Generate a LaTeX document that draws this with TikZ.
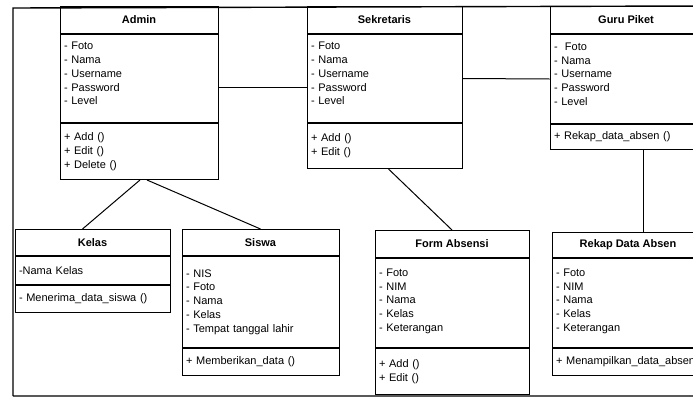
\documentclass[tikz,border=0pt]{standalone}
\usepackage{fontspec}
\setmainfont{Liberation Sans}
\usetikzlibrary{positioning}
\begin{document}
\begin{tikzpicture}[x=1pt,y=-1pt,line width=1pt,node distance=0pt,
  font=\fontsize{11}{13.75}\selectfont,
  ttl/.style={draw,anchor=north,inner sep=0pt,align=center,font=\fontsize{11}{13.75}\selectfont\bfseries},
  sect/.style={draw,inner xsep=4pt,inner ysep=0pt,align=left}]
\path[use as bounding box,clip](0,0)rectangle(693,399);
\draw[line width=1.4pt](13,396)--(13,8)--(693,6)(13,396)--(693,396);
\node[ttl,minimum width=158,minimum height=27](adminT)at(139,6){Admin};
\node[sect,below=of adminT,text width=150pt,minimum height=88](adminA){- Foto\\- Nama\\- Username\\- Password\\- Level\\[-4pt]\mbox{}};
\node[sect,below=of adminA,text width=150pt,minimum height=56](adminM){+ Add ()\\+ Edit ()\\+ Delete ()};
\node[ttl,minimum width=155,minimum height=27](sekT)at(384.5,6){Sekretaris};
\node[sect,below=of sekT,text width=147pt,minimum height=88](sekA){- Foto\\- Nama\\- Username\\- Password\\- Level\\[-4pt]\mbox{}};
\node[sect,below=of sekA,text width=147pt,minimum height=45](sekM){+ Add ()\\+ Edit ()};
\node[ttl,minimum width=152,minimum height=27](guruT)at(626,6){Guru Piket};
\node[sect,below=of guruT,text width=144pt,minimum height=89](guruA){-\ \ Foto\\- Nama\\- Username\\- Password\\- Level\\[-4pt]\mbox{}};
\node[sect,below=of guruA,text width=144pt,minimum height=25](guruM){+ Rekap\_data\_absen ()};
\node[ttl,minimum width=155,minimum height=26](kelasT)at(92.5,229){Kelas};
\node[sect,below=of kelasT,text width=147pt,minimum height=28](kelasA){-Nama Kelas};
\node[sect,below=of kelasA,text width=147pt,minimum height=27](kelasM){- Menerima\_data\_siswa ()};
\node[ttl,minimum width=157,minimum height=26](siswaT)at(260.5,229){Siswa};
\node[sect,below=of siswaT,text width=149pt,minimum height=91](siswaA){- NIS\\- Foto\\- Nama\\- Kelas\\- Tempat tanggal lahir};
\node[sect,below=of siswaA,text width=149pt,minimum height=27](siswaM){+ Memberikan\_data ()};
\node[ttl,minimum width=154,minimum height=27](formT)at(452,230){Form Absensi};
\node[sect,below=of formT,text width=146pt,minimum height=89](formA){- Foto\\- NIM\\- Nama\\- Kelas\\- Keterangan\\[-8pt]\mbox{}};
\node[sect,below=of formA,text width=146pt,minimum height=46](formM){+ Add ()\\+ Edit ()};
\node[ttl,minimum width=152,minimum height=25](rekapT)at(628,232){Rekap Data Absen};
\node[sect,below=of rekapT,text width=144pt,minimum height=89](rekapA){- Foto\\- NIM\\- Nama\\- Kelas\\- Keterangan\\[-8pt]\mbox{}};
\node[sect,below=of rekapA,text width=144pt,minimum height=27](rekapM){\mbox{+ Menampilkan\_data\_absen ()}};
\draw([xshift=1pt]adminM.south)--([xshift=-10pt]kelasT.north);
\draw([xshift=8pt]adminM.south)--(siswaT.north);
\draw([xshift=4pt]sekM.south)--(formT.north);
\draw([xshift=17pt]guruM.south)--([xshift=15pt]rekapT.north);
\draw([yshift=-9pt]adminA.east)--([yshift=-9pt]adminA.east-|sekA.west);
\draw(sekA.east)--(guruA.west);
\end{tikzpicture}
\end{document}
